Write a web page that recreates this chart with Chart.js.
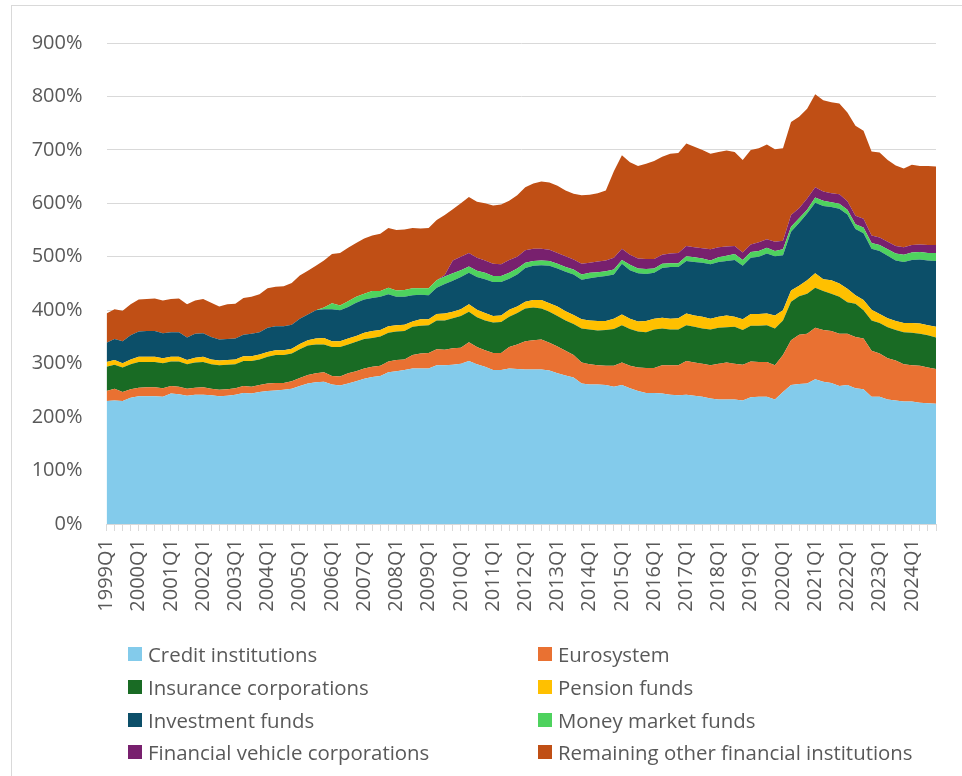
<!DOCTYPE html>
<html>
<head>
<meta charset="utf-8">
<script src="https://cdn.jsdelivr.net/npm/chart.js@4.4.1/dist/chart.umd.min.js"></script>
<style>
  body { margin: 0; background: #fff; font-family: "Open Sans", sans-serif; }
  #wrap { position: relative; width: 962px; height: 776px; overflow: hidden; }
  #frame { position: absolute; left: 11px; top: 5px; width: 1000px; height: 900px; border: 1px solid #d9d9d9; box-sizing: border-box; }
  #legend { position: absolute; left: 0; top: 0; width: 962px; height: 776px; pointer-events: none; }
  .item { position: absolute; display: flex; align-items: center; height: 30px; font-size: 20.4px; color: #595959; white-space: nowrap; }
  .box { width: 14px; height: 14px; margin-right: 6px; }
</style>
</head>
<body>
<div id="wrap">
  <div id="frame"></div>
  <canvas id="chart"></canvas>
  <div id="legend"></div>
</div>
<script>
// quarterly categories 1999Q1 .. 2024Q4
const quarters = [];
for (let y = 1999; y <= 2024; y++) {
  for (let q = 1; q <= 4; q++) quarters.push(y + "Q" + q);
}

// % values
const creditInstitutions = [
  230, 231, 230, 236, 239, 239, 239, 238, 244, 243, 240, 242, 242, 241, 239, 240, 242, 245, 244, 247, 249, 250, 251, 253, 258, 263, 265,
  266, 261, 259, 263, 267, 272, 275, 277, 284, 286, 288, 291, 291, 291, 297, 297, 298, 300, 305, 299, 294, 288, 288, 291, 290, 289,
  289, 289, 287, 282, 278, 274, 263, 261, 261, 260, 257, 260, 254, 249, 245, 245, 244, 242, 241, 242, 240, 238, 235, 233, 233,
  233, 231, 237, 238, 238, 233, 247, 260, 262, 263, 271, 266, 264, 258, 260, 254, 252, 238, 238, 233, 231, 229, 229, 227, 226, 225
];
const eurosystem = [
  19, 22, 17, 16, 16, 17, 17, 16, 14, 14, 13, 13, 14, 12, 12, 12, 12, 13, 13, 13, 14, 14, 13, 14, 15, 16, 17,
  18, 16, 17, 19, 19, 19, 19, 19, 20, 21, 20, 25, 28, 29, 30, 29, 31, 30, 35, 32, 31, 32, 32, 40, 46, 53,
  55, 56, 52, 50, 46, 42, 39, 38, 36, 36, 39, 42, 42, 44, 47, 47, 53, 55, 56, 63, 62, 62, 62, 67, 69,
  67, 67, 67, 65, 65, 64, 69, 84, 92, 93, 96, 97, 97, 98, 96, 96, 95, 86, 81, 77, 75, 70, 68, 69, 67, 65
];
const insuranceCorporations = [
  45, 45, 46, 47, 48, 47, 47, 47, 46, 47, 46, 47, 47, 46, 46, 46, 45, 47, 48, 48, 50, 52, 52, 52, 54, 55, 54,
  52, 54, 55, 54, 55, 55, 54, 55, 54, 53, 53, 53, 52, 52, 54, 55, 56, 59, 57, 56, 56, 57, 58, 57, 59, 61,
  61, 58, 58, 57, 57, 58, 64, 65, 65, 67, 69, 70, 69, 67, 67, 72, 69, 67, 67, 67, 67, 66, 67, 67, 66,
  69, 65, 67, 68, 69, 69, 65, 72, 72, 75, 75, 73, 70, 69, 59, 62, 53, 57, 57, 58, 57, 60, 61, 60, 60, 59
];
const pensionFunds = [
  9, 9, 8, 9, 10, 10, 10, 9, 9, 9, 8, 9, 10, 9, 9, 9, 9, 9, 9, 9, 9, 9, 9, 9, 10, 10, 11,
  12, 11, 11, 11, 11, 12, 13, 12, 12, 12, 12, 10, 12, 11, 12, 13, 12, 13, 14, 14, 14, 12, 12, 13, 12, 13,
  14, 16, 16, 18, 17, 17, 17, 17, 18, 17, 19, 20, 19, 19, 21, 20, 20, 20, 21, 22, 21, 22, 20, 21, 22,
  19, 20, 22, 22, 22, 24, 19, 21, 20, 25, 27, 22, 25, 25, 25, 16, 19, 20, 17, 17, 17, 17, 18, 19, 19, 20
];
const investmentFunds = [
  36, 39, 41, 45, 47, 48, 48, 47, 46, 46, 42, 45, 44, 42, 39, 39, 39, 40, 42, 42, 45, 45, 45, 45, 47, 48, 53,
  54, 60, 58, 59, 62, 62, 62, 62, 60, 53, 52, 49, 46, 45, 49, 55, 58, 60, 59, 61, 63, 64, 63, 58, 60, 63,
  64, 65, 70, 71, 74, 76, 74, 79, 82, 84, 83, 95, 91, 90, 88, 86, 93, 97, 96, 98, 100, 101, 102, 102, 102,
  106, 100, 105, 107, 112, 111, 103, 110, 117, 125, 132, 137, 137, 140, 139, 124, 125, 114, 118, 117, 113, 114, 118, 120, 121, 123
];
const moneyMarketFunds = [
  0, 0, 0, 0, 0, 0, 0, 0, 0, 0, 0, 0, 0, 0, 0, 0, 0, 0, 0, 0, 0, 0, 0, 0, 0, 0, 0,
  3, 11, 9, 11, 11, 11, 13, 11, 12, 12, 13, 13, 12, 13, 14, 14, 14, 13, 12, 12, 12, 11, 11, 11, 11, 10,
  9, 9, 9, 9, 9, 9, 10, 10, 9, 9, 9, 7, 10, 9, 9, 8, 8, 7, 7, 9, 9, 8, 7, 9, 10,
  11, 11, 11, 11, 11, 10, 11, 9, 9, 7, 10, 10, 9, 9, 9, 9, 11, 11, 11, 12, 13, 14, 14, 14, 14, 15
];
const financialVehicleCorporations = [
  0, 0, 0, 0, 0, 0, 0, 0, 0, 0, 0, 0, 0, 0, 0, 0, 0, 0, 0, 0, 0, 0, 0, 0, 0, 0, 0,
  0, 0, 0, 0, 0, 0, 0, 0, 0, 0, 0, 0, 0, 0, 0, 3, 24, 25, 25, 24, 23, 23, 22, 24, 22, 23,
  23, 22, 21, 20, 20, 19, 20, 19, 20, 20, 22, 21, 19, 19, 19, 18, 17, 18, 19, 19, 19, 19, 21, 19, 17,
  15, 14, 14, 16, 16, 17, 16, 22, 19, 21, 19, 17, 17, 18, 16, 16, 16, 14, 14, 14, 14, 14, 14, 14, 15, 15
];
const remainingOFIs = [
  55, 56, 57, 58, 60, 60, 61, 61, 62, 63, 62, 62, 64, 64, 62, 65, 65, 69, 69, 71, 74, 74, 75, 78, 81, 82, 83,
  88, 92, 98, 100, 101, 103, 104, 107, 112, 113, 113, 113, 112, 113, 113, 112, 96, 100, 105, 105, 107, 109, 112, 111, 115, 118,
  122, 126, 126, 126, 123, 123, 128, 127, 128, 131, 162, 175, 173, 173, 178, 183, 183, 187, 187, 192, 188, 184, 179, 178, 180,
  176, 173, 177, 176, 177, 173, 173, 174, 171, 168, 174, 171, 170, 170, 166, 168, 165, 157, 159, 153, 151, 147, 150, 147, 148, 147
];

const series = [
  { label: "Credit institutions", data: creditInstitutions, color: "#83CBEB" },
  { label: "Eurosystem", data: eurosystem, color: "#E97132" },
  { label: "Insurance corporations", data: insuranceCorporations, color: "#196B24" },
  { label: "Pension funds", data: pensionFunds, color: "#FFC000" },
  { label: "Investment funds", data: investmentFunds, color: "#0C4F69" },
  { label: "Money market funds", data: moneyMarketFunds, color: "#4ED25E" },
  { label: "Financial vehicle corporations", data: financialVehicleCorporations, color: "#78206E" },
  { label: "Remaining other financial institutions", data: remainingOFIs, color: "#C04F15" },
];

const textColor = "#595959";
const gridColor = "#d9d9d9";
const font = { family: "'Open Sans', sans-serif", size: 20 };

const chart = new Chart(document.getElementById("chart"), {
  type: "line",
  data: {
    labels: quarters,
    datasets: series.map((s, i) => ({
      label: s.label,
      data: s.data,
      backgroundColor: s.color,
      borderColor: "rgba(0,0,0,0)",
      borderWidth: 0,
      pointRadius: 0,
      tension: 0,
      fill: i === 0 ? "origin" : "-1",
    })),
  },
  options: {
    responsive: true,
    maintainAspectRatio: false,
    animation: false,
    layout: { padding: { left: 12, right: 26, top: 43, bottom: 0 } },
    plugins: {
      legend: { display: false },
      tooltip: { enabled: false },
    },
    scales: {
      x: {
        offset: false,
        grid: {
          drawOnChartArea: false,
          drawTicks: true,
          tickLength: 7,
          color: gridColor,
        },
        border: { color: gridColor },
        ticks: {
          autoSkip: false,
          minRotation: 90,
          maxRotation: 90,
          padding: 8,
          color: textColor,
          font: font,
          callback: (value, index) => (index % 4 === 0 ? quarters[index] : ""),
        },
        afterFit: (scale) => {
          scale.height = 252;
          scale.paddingLeft = 0;
          scale.paddingRight = 0;
        },
      },
      y: {
        stacked: true,
        min: 0,
        max: 900,
        grid: { color: gridColor, drawTicks: false },
        border: { display: false },
        ticks: {
          stepSize: 100,
          padding: 24,
          color: textColor,
          font: font,
          callback: (v) => v + "%",
        },
        afterFit: (scale) => {
          scale.width = 94.5;
        },
      },
    },
  },
});

// two-column legend under the plot, built from the datasets
const legend = document.getElementById("legend");
const colX = [128, 538];
const rowY = [653.5, 687, 719.5, 752];
chart.data.datasets.forEach((ds, i) => {
  const item = document.createElement("div");
  item.className = "item";
  item.style.left = colX[i % 2] + "px";
  item.style.top = rowY[Math.floor(i / 2)] - 15 + "px";
  const box = document.createElement("span");
  box.className = "box";
  box.style.background = ds.backgroundColor;
  item.appendChild(box);
  item.appendChild(document.createTextNode(ds.label));
  legend.appendChild(item);
});
</script>
</body>
</html>
